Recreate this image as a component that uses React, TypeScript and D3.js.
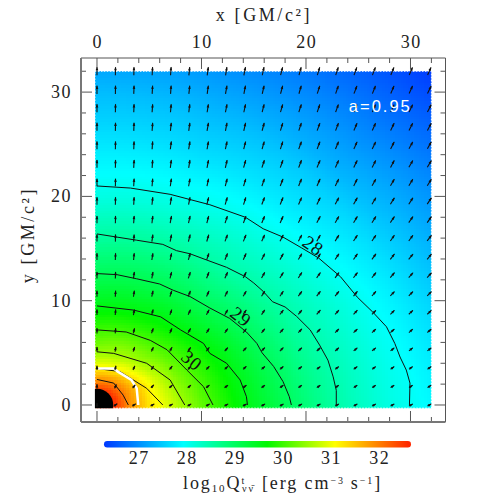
import React from 'react';
import * as d3 from 'd3';

// Field: log10 Q along rays from the origin
const radii = [1.5, 2, 3, 4, 5, 6, 8, 10, 12, 14, 16, 18, 20, 22, 24, 26, 28, 30, 32, 36, 40, 46];
const rayAngles = [0, 22.5, 45, 67.5, 90];
const ray0 = [32.6, 32.4, 31.9, 31.6, 31.25, 31.05, 30.6, 30.2, 29.85, 29.55, 29.3, 29.05, 28.8, 28.6, 28.4, 28.25, 28.1, 28.0, 27.88, 27.6, 27.3, 27.0];
const ray22 = [32.6, 32.4, 31.9, 31.55, 31.2, 30.85, 30.33, 29.97, 29.65, 29.35, 29.05, 28.8, 28.55, 28.38, 28.23, 28.08, 27.93, 27.78, 27.62, 27.3, 27.0, 26.6];
const ray45 = [32.6, 32.3, 31.8, 31.3, 30.85, 30.5, 30.07, 29.7, 29.35, 29.03, 28.75, 28.5, 28.33, 28.16, 27.98, 27.8, 27.65, 27.5, 27.3, 27.0, 26.7, 26.25];
const ray67 = [32.5, 32.2, 31.6, 31.0, 30.6, 30.4, 29.92, 29.52, 29.2, 28.92, 28.64, 28.4, 28.18, 27.98, 27.82, 27.65, 27.5, 27.35, 27.2, 26.9, 26.6, 26.2];
const ray90 = [32.4, 32.1, 31.5, 30.9, 30.52, 30.25, 29.83, 29.43, 29.12, 28.83, 28.55, 28.33, 28.1, 27.93, 27.8, 27.65, 27.5, 27.37, 27.2, 26.95, 26.7, 26.4];

// Colour bar
const colorValues = [26.27, 27.92, 28.75, 29.66, 31.07, 32.6];
const colorStops = ['#0038ff', '#00ffff', '#00ff80', '#00f800', '#ffff00', '#ff2800'];
const colorTicks = [27, 28, 29, 30, 31, 32];

// Contour lines, [x, y] in GM/c^2
const contour28 = [[0, 21], [3.2, 20.8], [7, 20.2], [8.9, 19.7], [10.8, 19.2], [14.2, 18], [15.9, 16.9], [17.8, 16.1], [19.6, 15.05], [21.2, 14.1], [23.3, 12.3], [24.9, 10.35], [26.4, 8.9], [27.7, 7.5], [28.5, 5.9], [29, 4.6], [29.6, 3.35], [29.95, 2.1], [29.9, 0]];
const contour285 = [[0, 16.4], [1.9, 16.1], [3.8, 15.8], [6.3, 15.4], [7.6, 14.8], [8.9, 14.5], [10.5, 13.9], [12.4, 13.2], [14.2, 12.3], [15, 11.7], [15.9, 10.9], [16.8, 9.9], [18, 9.4], [19.1, 8.5], [20.4, 7.2], [21.3, 5.75], [22.1, 4.3], [22.6, 2.7], [22.9, 1.4], [22.9, 0]];
const contour29 = [[0, 12.6], [1.9, 12.5], [3.8, 12.1], [6, 11.6], [7.3, 11], [8.9, 10.4], [10.8, 9.3], [12.7, 8.3], [14.3, 7], [15.3, 5.9], [15.8, 5], [16.9, 3.7], [17.8, 2.25], [18.4, 0.8], [18.6, 0]];
const contour295 = [[0, 9.5], [3.5, 9.1], [6.1, 8.45], [8, 7.2], [10.2, 5.9], [10.8, 4.95], [12.4, 4], [13.7, 2.4], [14.3, 0.8], [14.4, 0]];
const contour30 = [[0, 7.2], [2.8, 7], [5.1, 6.2], [6.7, 5.3], [8.6, 3.35], [10.2, 1.75], [11.1, 0]];
const contour305 = [[0, 5.1], [1.6, 4.95], [4.75, 4], [7, 2.4], [8.4, 0]];
const contour31 = [[0, 3.5], [2.2, 3.2], [4.75, 1.6], [6.3, 0]];
const contour315 = [[0, 2.45], [1.6, 2.1], [2.5, 0.95], [3, 0]];
const whiteLine = [[0.1, 3.5], [1.6, 3.5], [2, 3.2], [3.3, 2.4], [3.8, 1.6], [3.95, 0]];

const contourLabels = [
  { text: '28', x: 20.7, y: 15.3, angle: 35 },
  { text: '29', x: 13.8, y: 8.5, angle: 38 },
  { text: '30', x: 9.1, y: 4.3, angle: 40 },
];

// Arrow tilt from vertical in degrees, one row per grid line from y = 0 upward
const arrowTilt = [
  [0, 55, 58, 60, 60, 60, 60, 60, 60, 60, 60, 60, 60, 60, 60, 60, 60, 60, 60],
  [0, 24, 38, 44, 48, 50, 52, 53, 54, 54, 55, 55, 56, 56, 57, 57, 57, 57, 57],
  [0, 12, 24, 32, 38, 41, 44, 46, 48, 49, 50, 51, 52, 52, 53, 53, 54, 54, 54],
  [0, 8, 17, 24, 30, 34, 38, 40, 43, 44, 45, 47, 48, 48, 49, 50, 50, 51, 52],
  [0, 5, 12, 19, 24, 29, 32, 35, 38, 39, 41, 43, 44, 45, 46, 47, 48, 48, 49],
  [0, 4, 10, 15, 20, 24, 28, 31, 34, 35, 38, 39, 41, 42, 43, 44, 45, 46, 46],
  [0, 3, 8, 12, 17, 21, 24, 27, 30, 32, 34, 36, 38, 39, 40, 41, 43, 43, 44],
  [0, 2, 7, 10, 14, 18, 21, 24, 27, 29, 32, 33, 35, 36, 38, 39, 40, 41, 42],
  [0, 2, 5, 9, 12, 16, 19, 22, 24, 27, 29, 31, 32, 34, 35, 36, 38, 39, 39],
  [0, 1, 4, 8, 11, 14, 17, 20, 22, 24, 27, 28, 30, 32, 33, 34, 35, 36, 38],
  [0, 1, 4, 7, 10, 12, 15, 18, 20, 22, 24, 27, 28, 30, 31, 32, 34, 35, 35],
  [0, 1, 3, 6, 9, 11, 14, 16, 18, 21, 22, 24, 26, 28, 29, 31, 32, 33, 34],
  [0, 1, 3, 5, 8, 10, 12, 14, 17, 19, 21, 22, 24, 26, 27, 29, 30, 31, 32],
  [0, 1, 3, 4, 7, 9, 11, 13, 16, 18, 20, 21, 23, 24, 26, 27, 28, 30, 31],
  [0, 1, 2, 4, 7, 9, 10, 12, 14, 16, 18, 20, 21, 23, 24, 26, 27, 28, 29],
  [0, 1, 2, 4, 6, 8, 10, 11, 13, 15, 17, 18, 20, 21, 23, 24, 26, 27, 28],
  [0, 1, 2, 4, 5, 7, 9, 11, 12, 14, 16, 18, 19, 20, 21, 23, 24, 26, 27],
  [0, 1, 2, 3, 4, 6, 8, 10, 11, 13, 15, 16, 18, 19, 21, 22, 23, 24, 26],
  [0, 1, 1, 3, 4, 6, 8, 9, 11, 12, 14, 15, 17, 18, 20, 21, 22, 23, 24],
];
// Arrow length in px per row, same order
const arrowLength = [4.2, 4.2, 4.4, 4.8, 5.2, 5.6, 6, 6.5, 6.8, 7, 7.3, 7.5, 7.6, 7.8, 7.8, 8, 8, 8.2, 8.2];

const WIDTH = 498;
const HEIGHT = 498;

// Margin convention, frame edges in px
const frame = { left: 81, right: 445.5, top: 58, bottom: 422 };

const xScale = d3.scaleLinear().domain([-1.53, 33.35]).range([frame.left, frame.right]);
const yScale = d3.scaleLinear().domain([-1.63, 33.27]).range([frame.bottom, frame.top]);
const barScale = d3.scaleLinear().domain([26.27, 32.65]).range([104, 411]);

const colorScale = d3
  .scaleLinear<string>()
  .domain(colorValues)
  .range(colorStops)
  .interpolate(d3.interpolateRgb)
  .clamp(true);

const rayScales = [ray0, ray22, ray45, ray67, ray90].map(ray =>
  d3.scaleLinear().domain(radii).range(ray).clamp(true),
);

function fieldAt(x: number, y: number) {
  const r = Math.hypot(x, y);
  const deg = (Math.atan2(Math.abs(y), Math.abs(x)) * 180) / Math.PI;
  const i = Math.min(d3.bisectRight(rayAngles, deg) - 1, rayAngles.length - 2);
  const t = (deg - rayAngles[i]) / (rayAngles[i + 1] - rayAngles[i]);
  return rayScales[i](r) * (1 - t) + rayScales[i + 1](r) * t;
}

// Heat map cells
const cellStep = 0.25;
const cellXs = d3.range(-0.2, 32, cellStep);
const cellYs = d3.range(-0.3, 32, cellStep);
const cells = cellYs.flatMap(y => cellXs.map(x => ({ x, y, v: fieldAt(x + cellStep / 2, y + cellStep / 2) })));

const arrowXs = d3.range(19).map(i => (i * 31.8) / 18);
const arrowYs = d3.range(19).map(i => (i * 32) / 18);

const line = d3
  .line<number[]>()
  .x(d => xScale(d[0]))
  .y(d => yScale(d[1]));

const serif = '"Liberation Serif", serif';
const tickInk = '#222';

const xTicks = [0, 10, 20, 30];
const yTicks = [0, 10, 20, 30];
const xMinor = d3.range(0, 34, 2);
const yMinor = d3.range(0, 34, 2);

function Arrow({ x, y, tilt, length }: { x: number; y: number; tilt: number; length: number }) {
  const rad = (tilt * Math.PI) / 180;
  const dx = (Math.sin(rad) * length) / 2;
  const dy = (Math.cos(rad) * length) / 2;
  return (
    <g transform={`translate(${x},${y})`}>
      <line x1={-dx} y1={dy} x2={dx} y2={-dy} stroke="#111" strokeWidth={1.1} />
      <path
        transform={`translate(${dx},${-dy}) rotate(${tilt})`}
        d="M0,-0.5L1.3,3.2L-1.3,3.2Z"
        fill="#111"
      />
    </g>
  );
}

export default function App() {
  const plotX0 = xScale(-0.2);
  const plotY1 = yScale(-0.3);
  const cellW = xScale(cellStep) - xScale(0);
  const cellH = yScale(0) - yScale(cellStep);

  return (
    <svg
      width={WIDTH}
      height={HEIGHT}
      style={{ position: 'absolute', left: 0, top: 0, background: '#fff' }}
    >
      <defs>
        <clipPath id="plot-clip">
          <rect x={plotX0} y={yScale(32)} width={xScale(32) - plotX0} height={plotY1 - yScale(32)} />
        </clipPath>
        <linearGradient id="bar-fill" x1="0" x2="1" y1="0" y2="0">
          {colorValues.map((v, i) => (
            <stop key={v} offset={(barScale(v) - 104) / 307} stopColor={colorStops[i]} />
          ))}
        </linearGradient>
      </defs>

      {/* Heat map */}
      <g clipPath="url(#plot-clip)" shapeRendering="crispEdges">
        {cells.map((c, i) => (
          <rect
            key={i}
            x={xScale(c.x)}
            y={yScale(c.y) - cellH}
            width={cellW + 0.6}
            height={cellH + 0.6}
            fill={colorScale(c.v)}
          />
        ))}
      </g>
      <rect
        x={plotX0}
        y={yScale(32)}
        width={xScale(32) - plotX0}
        height={plotY1 - yScale(32)}
        fill="none"
        stroke="#fff"
        strokeWidth={1}
        strokeDasharray="1.5 1.5"
      />

      {/* Black hole */}
      <g clipPath="url(#plot-clip)">
        <circle cx={xScale(0)} cy={yScale(0)} r={xScale(1.55) - xScale(0)} fill="#000" />
      </g>

      {/* Contours */}
      {[contour28, contour285, contour29, contour295, contour30, contour305, contour31, contour315].map((c, i) => (
        <path key={i} d={line(c) || ''} fill="none" stroke="#111" strokeWidth={1} />
      ))}
      <path d={line(whiteLine) || ''} fill="none" stroke="#fff" strokeWidth={2.5} />

      {/* Arrows */}
      {arrowYs.map((y, row) =>
        arrowXs.map((x, col) => (
          <Arrow
            key={`${row}-${col}`}
            x={xScale(x)}
            y={yScale(y)}
            tilt={arrowTilt[row][col]}
            length={arrowLength[row]}
          />
        )),
      )}

      {contourLabels.map(l => (
        <text
          key={l.text}
          transform={`translate(${xScale(l.x)},${yScale(l.y)}) rotate(${l.angle})`}
          textAnchor="middle"
          dy="0.36em"
          fontFamily={serif}
          fontSize={19}
          letterSpacing={0.8}
          fill="#111"
        >
          {l.text}
        </text>
      ))}

      <text
        x={xScale(24.1)}
        y={yScale(28.1)}
        fontFamily='"Liberation Sans", sans-serif'
        fontSize={16.5}
        letterSpacing={2}
        fill="#fff"
      >
        a=0.95
      </text>

      {/* Frame and ticks */}
      <g stroke="#555" fill="none">
        {xMinor.map(v => (
          <g key={v}>
            <line x1={xScale(v)} x2={xScale(v)} y1={frame.top} y2={frame.top + (v % 10 ? 5 : 11)} />
            <line x1={xScale(v)} x2={xScale(v)} y1={frame.bottom} y2={frame.bottom - (v % 10 ? 5 : 11)} />
          </g>
        ))}
        {yMinor.map(v => (
          <g key={v}>
            <line y1={yScale(v)} y2={yScale(v)} x1={frame.left} x2={frame.left + (v % 10 ? 5 : 11)} />
            <line y1={yScale(v)} y2={yScale(v)} x1={frame.right} x2={frame.right - (v % 10 ? 5 : 11)} />
          </g>
        ))}
        <line x1={frame.left} x2={frame.right} y1={frame.top} y2={frame.top} />
        <line x1={frame.right} x2={frame.right} y1={frame.top} y2={frame.bottom} />
        <line x1={frame.left} x2={frame.left} y1={frame.top} y2={frame.bottom} strokeWidth={2} stroke="#777" />
        <line x1={frame.left} x2={frame.right} y1={frame.bottom} y2={frame.bottom} strokeWidth={2} stroke="#777" />
      </g>

      <g fontFamily={serif} fontSize={18} fill={tickInk} letterSpacing={1.5}>
        {xTicks.map(v => (
          <text key={v} x={xScale(v) + 0.7} y={48} textAnchor="middle">
            {v}
          </text>
        ))}
        {yTicks.map(v => (
          <text key={v} x={72} y={yScale(v) + 6} textAnchor="end">
            {v}
          </text>
        ))}
        <text x={264} y={21} textAnchor="middle" letterSpacing={2.6}>
          x [GM/c²]
        </text>
        <text transform={`translate(34,235) rotate(-90)`} textAnchor="middle" letterSpacing={2.6}>
          y [GM/c²]
        </text>
      </g>

      {/* Colour bar */}
      <rect x={104} y={441} width={307} height={6.5} rx={3.2} fill="url(#bar-fill)" />
      <g fontFamily={serif} fontSize={18} fill={tickInk} letterSpacing={1.5}>
        {colorTicks.map(v => (
          <text key={v} x={barScale(v)} y={464} textAnchor="middle">
            {v}
          </text>
        ))}
      </g>
      <text x={183} y={489} fontFamily={serif} fontSize={18} fill={tickInk} letterSpacing={1.9}>
        log
        <tspan fontSize={11} dy={3}>10</tspan>
        <tspan dy={-3}>Q</tspan>
        <tspan fontSize={10} dy={-5}>t</tspan>
        <tspan fontSize={10} dy={8} dx={-4}>νν̄</tspan>
        <tspan dy={-3} dx={7}>[erg cm</tspan>
        <tspan fontSize={10} dy={-5}>−3</tspan>
        <tspan dy={5} dx={6}>s</tspan>
        <tspan fontSize={10} dy={-5}>−1</tspan>
        <tspan dy={5}>]</tspan>
      </text>
    </svg>
  );
}
